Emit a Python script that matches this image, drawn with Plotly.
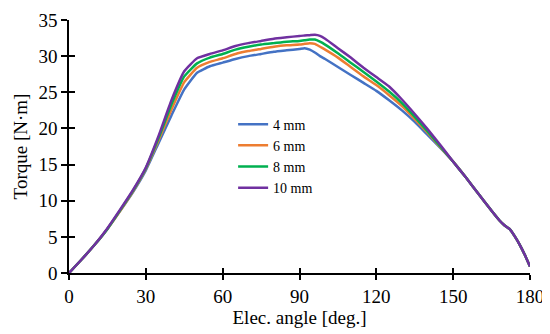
import plotly.graph_objects as go

angle = [0, 5, 10, 15, 20, 25, 30, 35, 40, 45, 50, 55, 60, 65, 70, 75, 80, 85, 90,
         92, 94, 96, 98, 100, 105, 110, 115, 120, 125, 130, 135, 140, 145, 150,
         155, 160, 165, 168, 170, 172, 174, 176, 178, 180]

torque_4mm = [0, 1.9, 3.9, 6.1, 8.6, 11.2, 14.2, 18.0, 21.8, 25.4, 27.7, 28.6, 29.1, 29.6, 30.0, 30.3, 30.6, 30.8, 31.0,
              31.1, 30.9, 30.5, 30.0, 29.6, 28.5, 27.4, 26.3, 25.2, 23.9, 22.5, 20.9, 19.1, 17.3, 15.4,
              13.2, 10.9, 8.6, 7.3, 6.6, 6.1, 5.1, 3.9, 2.5, 0.9]
torque_6mm = [0, 1.9, 3.9, 6.1, 8.6, 11.3, 14.4, 18.4, 22.6, 26.4, 28.4, 29.2, 29.7, 30.3, 30.7, 31.0, 31.3, 31.5, 31.6,
              31.7, 31.8, 31.7, 31.3, 30.9, 29.8, 28.5, 27.2, 26.0, 24.6, 23.1, 21.3, 19.4, 17.4, 15.4,
              13.2, 10.9, 8.6, 7.3, 6.6, 6.1, 5.1, 3.9, 2.5, 0.9]
torque_8mm = [0, 1.9, 3.9, 6.1, 8.7, 11.4, 14.5, 18.7, 23.3, 27.2, 29.0, 29.8, 30.3, 30.9, 31.3, 31.6, 31.8, 32.0, 32.1,
              32.2, 32.3, 32.3, 32.0, 31.6, 30.4, 29.1, 27.8, 26.5, 25.1, 23.5, 21.6, 19.6, 17.5, 15.4,
              13.2, 10.9, 8.6, 7.3, 6.6, 6.1, 5.1, 3.9, 2.5, 0.9]
torque_10mm = [0, 1.9, 3.9, 6.2, 8.8, 11.5, 14.6, 19.0, 23.9, 27.9, 29.7, 30.3, 30.8, 31.4, 31.8, 32.1, 32.4, 32.6, 32.8,
               32.85, 32.9, 32.95, 32.8, 32.4, 31.1, 29.8, 28.4, 27.1, 25.8, 24.0, 22.0, 19.9, 17.7, 15.4,
               13.2, 10.9, 8.6, 7.3, 6.6, 6.1, 5.1, 3.9, 2.5, 0.9]

series_names = ["4 mm", "6 mm", "8 mm", "10 mm"]
series_colors = ["#4472C4", "#ED7D31", "#00B050", "#7030A0"]
x_ticks = [0, 30, 60, 90, 120, 150, 180]
y_ticks = [0, 5, 10, 15, 20, 25, 30, 35]

FONT = "Liberation Serif"
tickfont = dict(family=FONT, size=19, color="black")

fig = go.Figure()
for name, ys, col in zip(series_names, [torque_4mm, torque_6mm, torque_8mm, torque_10mm], series_colors):
    fig.add_trace(go.Scatter(x=angle, y=ys, name=name, mode="lines",
                             line=dict(color=col, width=2.5, shape="spline", smoothing=0.4)))

axis_common = dict(showgrid=False, zeroline=False, automargin=False)
fig.update_layout(
    width=542, height=326,
    margin=dict(l=61, r=20, t=12, b=61, autoexpand=False),
    plot_bgcolor="white", paper_bgcolor="white",
    font=dict(family=FONT, size=19, color="black"),
    showlegend=True,
    legend=dict(x=0.356, y=0.65, xanchor="left", yanchor="top",
                font=dict(family=FONT, size=14, color="black"), bgcolor="rgba(0,0,0,0)",
                tracegroupgap=0),
    xaxis=dict(range=[0, 180], tickvals=x_ticks, ticks="outside", ticklen=5, tickwidth=1.5,
               tickcolor="black", showline=True, linecolor="black", linewidth=1.5, tickfont=tickfont,
               title=dict(text="Elec. angle [deg.]", font=tickfont, standoff=4), **axis_common),
    yaxis=dict(range=[0, 35], tickvals=y_ticks, ticks="outside", ticklen=6, tickwidth=1.5,
               tickcolor="black", showline=True, linecolor="black", linewidth=1.5, tickfont=tickfont,
               title=dict(text="Torque [N·m]", font=tickfont, standoff=6), **axis_common),
    xaxis2=dict(range=[0, 180], tickvals=x_ticks, ticks="inside", ticklen=5, tickwidth=1.5,
                tickcolor="black", showticklabels=False, overlaying="x", side="bottom",
                anchor="y", **axis_common),
    yaxis2=dict(range=[0, 35], tickvals=y_ticks, ticks="inside", ticklen=6, tickwidth=1.5,
                tickcolor="black", showticklabels=False, overlaying="y", side="left",
                anchor="x", **axis_common),
)
fig.add_trace(go.Scatter(x=[0], y=[0], xaxis="x2", yaxis="y2", mode="markers",
                         marker=dict(opacity=0), showlegend=False, hoverinfo="skip"))

fig.write_html("out.html")
